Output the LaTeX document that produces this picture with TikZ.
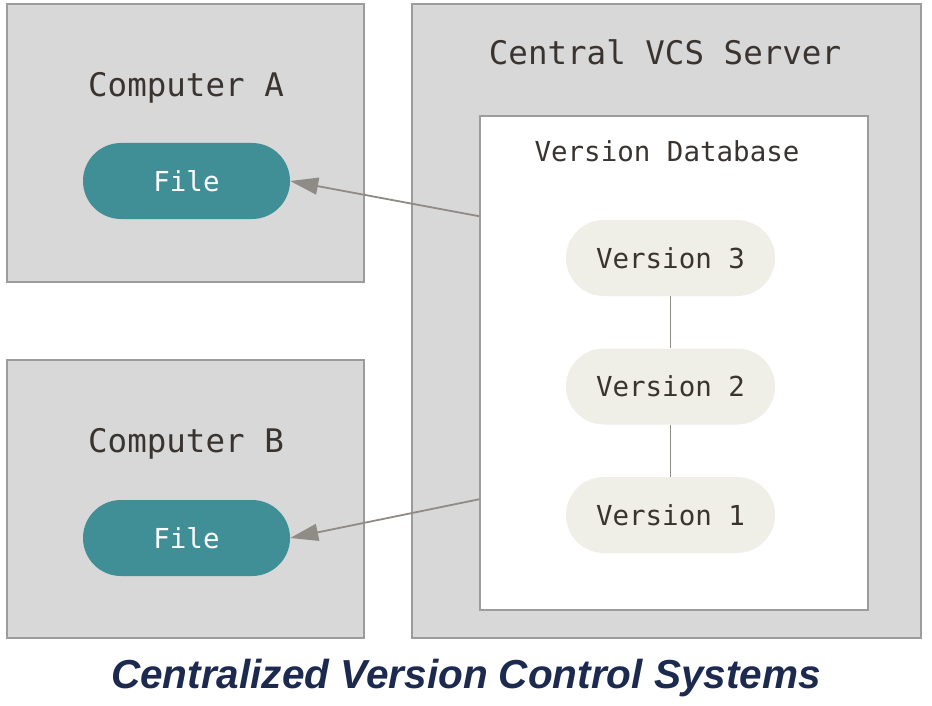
\documentclass[tikz,border=0pt]{standalone}
\usepackage{fontspec}
\usepackage{xcolor}
\setmainfont{Liberation Sans}
\setmonofont{DejaVu Sans Mono}
\usetikzlibrary{positioning, calc, arrows.meta}

\definecolor{boxgray}{HTML}{D8D8D8}
\definecolor{edgegray}{HTML}{9C9C9C}
\definecolor{fileteal}{HTML}{408E96}
\definecolor{versionbg}{HTML}{EFEEE7}
\definecolor{inkdark}{HTML}{3A3431}
\definecolor{linkgray}{HTML}{8F8B86}
\definecolor{captionnavy}{HTML}{1B2A4E}

\begin{document}
\begin{tikzpicture}[
  x=1pt, y=-1pt,
  font=\ttfamily,
  hostbox/.style={draw=edgegray, fill=boxgray, line width=1.5pt, inner sep=0pt},
  dbbox/.style={draw=edgegray, fill=white, line width=1.5pt, inner sep=0pt},
  boxtitle/.style={anchor=base, text=inkdark, font=\ttfamily\fontsize{32.5}{36}\selectfont},
  dbtitle/.style={anchor=base, text=inkdark, font=\ttfamily\fontsize{27.5}{32}\selectfont},
  filepill/.style={fill=fileteal, text=white, rounded corners=38pt,
    minimum width=207pt, minimum height=76pt, font=\ttfamily\fontsize{27.5}{32}\selectfont},
  versionpill/.style={fill=versionbg, text=inkdark, rounded corners=38pt,
    minimum width=209pt, minimum height=76pt, font=\ttfamily\fontsize{27.5}{32}\selectfont},
  link/.style={draw=linkgray, line width=1.8pt, -{Triangle[length=28pt, width=17pt]}},
]
\useasboundingbox (0,0) rectangle (932,706);

% ---- computers ----
\node[hostbox, minimum width=357pt, minimum height=278pt] (compA) at (185.5,143) {};
\node[hostbox, minimum width=357pt, minimum height=278pt] (compB) at (185.5,499) {};
\node[boxtitle] (titleA) at (186,97) {Computer A};
\node[boxtitle] (titleB) at (186,452) {Computer B};
\node[filepill] (fileA) at (186.5,181) {File};
\node[filepill] (fileB) at (186.5,538) {File};

% ---- server and database ----
\node[hostbox, minimum width=509pt, minimum height=634pt] (server) at (666.5,321) {};
\node[boxtitle] (titleS) at (665,65) {Central VCS Server};
\node[dbbox, minimum width=388pt, minimum height=494pt] (db) at (674,363) {};
\node[dbtitle] (titleD) at (667,162) {Version Database};

% versions, top to bottom
\foreach \v/\y in {3/258, 2/386.5, 1/515} {
  \node[versionpill] (ver\v) at (670.5,\y) {Version \v};
}
\draw[linkgray, line width=1.8pt] (ver3) -- (ver2);
\draw[linkgray, line width=1.8pt] (ver2) -- (ver1);

% ---- checkouts ----
\coordinate (outA) at ($(db.north west)+(0,101)$);
\coordinate (outB) at ($(db.north west)+(0,384)$);
\draw[link] (outA) -- (fileA.east);
\draw[link] (outB) -- (fileB.east);

% ---- caption ----
\node[anchor=base, text=captionnavy, font=\fontsize{40.5}{46}\selectfont\bfseries\itshape]
  (caption) at (466,688) {Centralized Version Control Systems};

\end{tikzpicture}
\end{document}
